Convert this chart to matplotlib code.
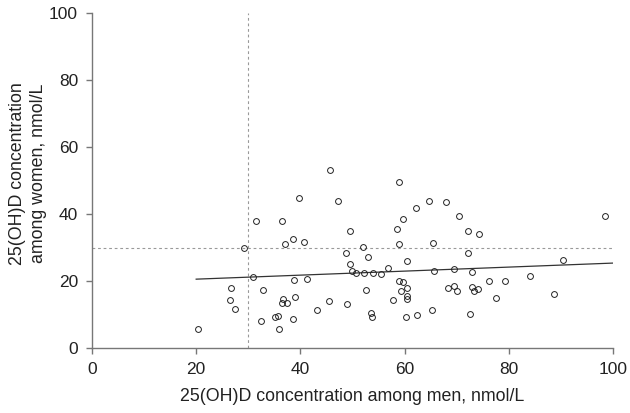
import numpy as np
import matplotlib
matplotlib.use("Agg")
import matplotlib.pyplot as plt

plt.rcParams['font.family'] = ['Liberation Sans', 'DejaVu Sans']

# 25(OH)D among men (x) and women (y), nmol/L
men = [20.3, 26.5, 26.7, 27.5, 29.2, 31.0, 31.5, 32.4, 32.8, 35.1, 35.7, 35.8,
       36.4, 36.5, 36.7, 37.0, 37.4, 38.5, 38.5, 38.8, 39.0, 39.7, 40.7, 41.2,
       43.2, 45.5, 45.7, 47.2, 48.7, 48.9, 49.5, 49.5, 50.0, 50.7, 52.0, 52.3,
       52.5, 53.0, 53.5, 53.7, 54.0, 55.5, 56.9, 57.7, 58.5, 58.9, 58.9, 59.0,
       59.3, 59.6, 59.7, 60.2, 60.4, 60.5, 60.5, 60.5, 62.2, 62.4, 64.7, 65.2,
       65.5, 65.7, 67.9, 68.4, 69.4, 69.5, 70.0, 70.5, 72.2, 72.2, 72.5, 72.9,
       73.0, 73.4, 74.0, 74.3, 76.2, 77.5, 79.2, 84.0, 88.7, 90.5, 98.5]
women = [5.6, 14.5, 18.1, 11.7, 30.0, 21.3, 38.0, 8.1, 17.4, 9.2, 9.6, 5.7,
         13.5, 38.0, 14.7, 31.0, 13.6, 32.5, 8.7, 20.4, 15.2, 44.7, 31.8, 20.5,
         11.4, 14.1, 53.2, 43.9, 28.3, 13.2, 35.0, 25.0, 22.9, 22.3, 30.3, 22.5,
         17.3, 27.3, 10.4, 9.2, 22.5, 22.1, 23.9, 14.3, 35.5, 49.5, 31.0, 20.2,
         17.2, 19.9, 38.5, 9.4, 26.1, 17.9, 15.6, 14.7, 41.8, 9.8, 43.9, 11.5,
         31.5, 23.1, 43.5, 17.9, 23.7, 18.7, 17.0, 39.5, 35.0, 28.3, 10.1, 22.8,
         18.4, 17.0, 17.7, 34.2, 20.0, 14.9, 20.1, 21.6, 16.3, 26.3, 39.5]

# fitted line as drawn in the figure
fit_x = [20, 100]
fit_intercept = 19.4
fit_slope = 0.06
cutoff = 30

fig = plt.figure(figsize=(6.3, 4.13), dpi=100)
ax = fig.add_axes([0.146, 0.157, 0.827, 0.811])

ax.axvline(cutoff, color='#999999', lw=0.8, ls=(0, (2.5, 2.5)), zorder=1)
ax.axhline(cutoff, color='#999999', lw=0.8, ls=(0, (2.5, 2.5)), zorder=1)

fx = np.array(fit_x, dtype=float)
ax.plot(fx, fit_intercept + fit_slope * fx, color='#333333', lw=0.9, zorder=2)

ax.plot(men, women, 'o', ms=4.2, mfc='none', mec='#222222', mew=0.7, zorder=3)

ax.set_xlim(0, 100)
ax.set_ylim(0, 100)
ax.set_xticks(range(0, 101, 20))
ax.set_yticks(range(0, 101, 20))

for side in ['top', 'right']:
    ax.spines[side].set_visible(False)
for side in ['left', 'bottom']:
    ax.spines[side].set_color('#777777')
    ax.spines[side].set_linewidth(1.0)

ax.tick_params(direction='out', length=4, width=1.0, color='#777777',
               labelsize=12.5, labelcolor='#222222', pad=6)

ax.set_xlabel('25(OH)D concentration among men, nmol/L', fontsize=12.8,
              color='#222222', labelpad=8)
ax.set_ylabel('25(OH)D concentration\namong women, nmol/L', fontsize=12.8,
              color='#222222', linespacing=1.3)
ax.yaxis.set_label_coords(-0.086, 0.522)

fig.savefig('out.png', dpi=100)
